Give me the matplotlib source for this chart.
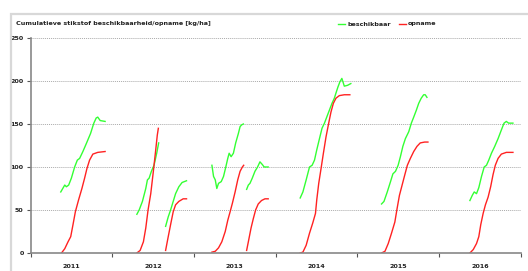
import matplotlib.pyplot as plt
from matplotlib.patches import Rectangle

# --- data (decimal years, kg/ha) ---
years = [2011, 2012, 2013, 2014, 2015, 2016]

# 2011
x_b11 = [2011.368, 2011.417, 2011.437, 2011.465, 2011.498, 2011.538, 2011.571, 2011.599,
         2011.639, 2011.680, 2011.733, 2011.773, 2011.802, 2011.821, 2011.851, 2011.911]
y_b11 = [71, 79, 77, 79, 87, 100, 108, 110, 118, 127, 139, 151, 157, 158, 154, 153]
x_o11 = [2011.377, 2011.417, 2011.457, 2011.490, 2011.518, 2011.547, 2011.587, 2011.627,
         2011.660, 2011.688, 2011.721, 2011.761, 2011.821, 2011.911]
y_o11 = [0, 5, 13, 19, 33, 48, 62, 75, 87, 98, 108, 115, 117, 118]

# 2012 (two crops)
x_b12a = [2012.300, 2012.328, 2012.368, 2012.409, 2012.429, 2012.450, 2012.478, 2012.510,
          2012.543, 2012.567]
y_b12a = [45, 50, 60, 75, 85, 87, 95, 102, 116, 128]
x_o12a = [2012.300, 2012.340, 2012.380, 2012.409, 2012.437, 2012.470, 2012.502, 2012.531,
          2012.550, 2012.563]
y_o12a = [0, 3, 13, 29, 50, 69, 95, 120, 137, 145]
x_b12b = [2012.652, 2012.684, 2012.713, 2012.745, 2012.774, 2012.814, 2012.854, 2012.908]
y_b12b = [31, 42, 50, 60, 69, 77, 82, 84]
x_o12b = [2012.652, 2012.680, 2012.713, 2012.745, 2012.774, 2012.814, 2012.867, 2012.908]
y_o12b = [3, 17, 33, 48, 56, 60, 63, 63]

# 2013 (two crops)
x_b13a = [2013.219, 2013.239, 2013.260, 2013.279, 2013.300, 2013.333, 2013.361, 2013.389,
          2013.413, 2013.430, 2013.454, 2013.482, 2013.510, 2013.543, 2013.564, 2013.583,
          2013.604]
y_b13a = [102, 89, 85, 75, 81, 83, 89, 100, 110, 116, 112, 116, 128, 139, 147, 149, 150]
x_o13a = [2013.219, 2013.260, 2013.300, 2013.340, 2013.382, 2013.413, 2013.442, 2013.470,
          2013.503, 2013.535, 2013.564, 2013.592, 2013.608]
y_o13a = [1, 2, 6, 13, 25, 38, 48, 58, 71, 85, 95, 100, 102]
x_b13b = [2013.644, 2013.665, 2013.685, 2013.713, 2013.746, 2013.778, 2013.807, 2013.835,
          2013.859, 2013.908]
y_b13b = [74, 79, 81, 87, 95, 100, 106, 103, 100, 100]
x_o13b = [2013.644, 2013.665, 2013.698, 2013.726, 2013.754, 2013.786, 2013.826, 2013.868,
          2013.908]
y_o13b = [3, 13, 29, 40, 50, 57, 61, 63, 63]

# 2014
x_b14 = [2014.300, 2014.333, 2014.373, 2014.414, 2014.446, 2014.475, 2014.503, 2014.536,
         2014.567, 2014.597, 2014.625, 2014.657, 2014.689, 2014.718, 2014.738, 2014.762,
         2014.786, 2014.810, 2014.827, 2014.840, 2014.880, 2014.920]
y_b14 = [64, 71, 85, 100, 102, 108, 120, 133, 145, 151, 158, 166, 174, 180, 186, 193,
         199, 203, 198, 194, 195, 197]
x_o14 = [2014.300, 2014.333, 2014.373, 2014.414, 2014.454, 2014.487, 2014.503, 2014.527,
         2014.555, 2014.584, 2014.616, 2014.649, 2014.677, 2014.706, 2014.738, 2014.779,
         2014.840, 2014.908]
y_o14 = [0, 1, 9, 23, 35, 46, 62, 81, 98, 116, 135, 151, 164, 174, 180, 183, 184, 184]

# 2015
x_b15 = [2015.296, 2015.326, 2015.366, 2015.406, 2015.435, 2015.467, 2015.499, 2015.527,
         2015.557, 2015.588, 2015.629, 2015.661, 2015.690, 2015.722, 2015.751, 2015.782,
         2015.812, 2015.831, 2015.852]
y_b15 = [57, 60, 71, 83, 92, 95, 102, 112, 124, 133, 141, 151, 158, 166, 174, 180, 184,
         184, 181]
x_o15 = [2015.296, 2015.338, 2015.378, 2015.418, 2015.459, 2015.487, 2015.515, 2015.548,
         2015.581, 2015.612, 2015.649, 2015.690, 2015.730, 2015.770, 2015.824, 2015.864]
y_o15 = [0, 2, 11, 23, 36, 52, 67, 79, 91, 102, 110, 118, 124, 128, 129, 129]

# 2016
x_b16 = [2016.378, 2016.407, 2016.431, 2016.459, 2016.487, 2016.520, 2016.553, 2016.581,
         2016.609, 2016.642, 2016.682, 2016.723, 2016.763, 2016.796, 2016.824, 2016.852,
         2016.905]
y_b16 = [61, 67, 71, 69, 76, 89, 100, 102, 108, 116, 124, 133, 143, 151, 153, 151, 151]
x_o16 = [2016.378, 2016.419, 2016.459, 2016.487, 2016.511, 2016.540, 2016.568, 2016.601,
         2016.632, 2016.661, 2016.689, 2016.723, 2016.763, 2016.824, 2016.905]
y_o16 = [0, 4, 11, 19, 33, 46, 56, 65, 77, 91, 102, 110, 115, 117, 117]

beschikbaar = [(x_b11, y_b11), (x_b12a, y_b12a), (x_b12b, y_b12b), (x_b13a, y_b13a),
               (x_b13b, y_b13b), (x_b14, y_b14), (x_b15, y_b15), (x_b16, y_b16)]
opname = [(x_o11, y_o11), (x_o12a, y_o12a), (x_o12b, y_o12b), (x_o13a, y_o13a),
          (x_o13b, y_o13b), (x_o14, y_o14), (x_o15, y_o15), (x_o16, y_o16)]

GREEN = '#33ff33'
RED = '#ff2222'
W, H = 528, 271

fig = plt.figure(figsize=(W / 100, H / 100), dpi=100)
fig.patch.set_facecolor('white')

# light grey panel frame
fig.patches.append(Rectangle((10.5 / W, -0.05), 1.0, 1 - 13.5 / H + 0.05,
                             transform=fig.transFigure, fill=False,
                             edgecolor='#d8d8d8', linewidth=1.6))

ax = fig.add_axes([30.7 / W, 1 - 253 / H, 490 / W, 215 / H])
for xs, ys in beschikbaar:
    ax.plot(xs, ys, color=GREEN, lw=1.0)
for xs, ys in opname:
    ax.plot(xs, ys, color=RED, lw=1.0)

ax.set_xlim(2011, 2011 + 490 / 82.3)
ax.set_ylim(0, 250)

ax.set_yticks([0, 50, 100, 150, 200, 250])
ax.yaxis.grid(True, linestyle=(0, (1, 1)), color='#aaaaaa', lw=0.7)
ax.set_axisbelow(True)

ax.set_xticks(years + [2017])
ax.set_xticklabels([])
ax.set_xticks([y + 0.5 for y in years], minor=True)
ax.set_xticklabels([str(y) for y in years], minor=True)
ax.tick_params(axis='x', which='minor', length=0, pad=8)
ax.tick_params(axis='x', which='major', length=3, width=0.8, color='#555555', direction='out')
ax.tick_params(axis='y', length=3, width=0.8, color='#555555', pad=2)
for lab in ax.get_xticklabels(minor=True) + ax.get_yticklabels():
    lab.set_fontsize(4.6)
    lab.set_fontweight('bold')
    lab.set_color('#222222')

for s in ['top', 'right']:
    ax.spines[s].set_visible(False)
for s in ['left', 'bottom']:
    ax.spines[s].set_color('#888888')
    ax.spines[s].set_linewidth(1.2)

fig.text(16 / W, 1 - 24 / H, 'Cumulatieve stikstof beschikbaarheid/opname [kg/ha]',
         fontsize=4.6, fontweight='bold', color='#222222', va='center', ha='left')

# legend
ly = 1 - 24 / H
fig.lines.append(plt.Line2D([338 / W, 345 / W], [ly, ly], transform=fig.transFigure,
                            color=GREEN, lw=1.0))
fig.text(347 / W, ly, 'beschikbaar', fontsize=4.6, fontweight='bold', color='#222222',
         va='center', ha='left')
fig.lines.append(plt.Line2D([399 / W, 406 / W], [ly, ly], transform=fig.transFigure,
                            color=RED, lw=1.0))
fig.text(408 / W, ly, 'opname', fontsize=4.6, fontweight='bold', color='#222222',
         va='center', ha='left')

fig.savefig('out.png', dpi=100)
